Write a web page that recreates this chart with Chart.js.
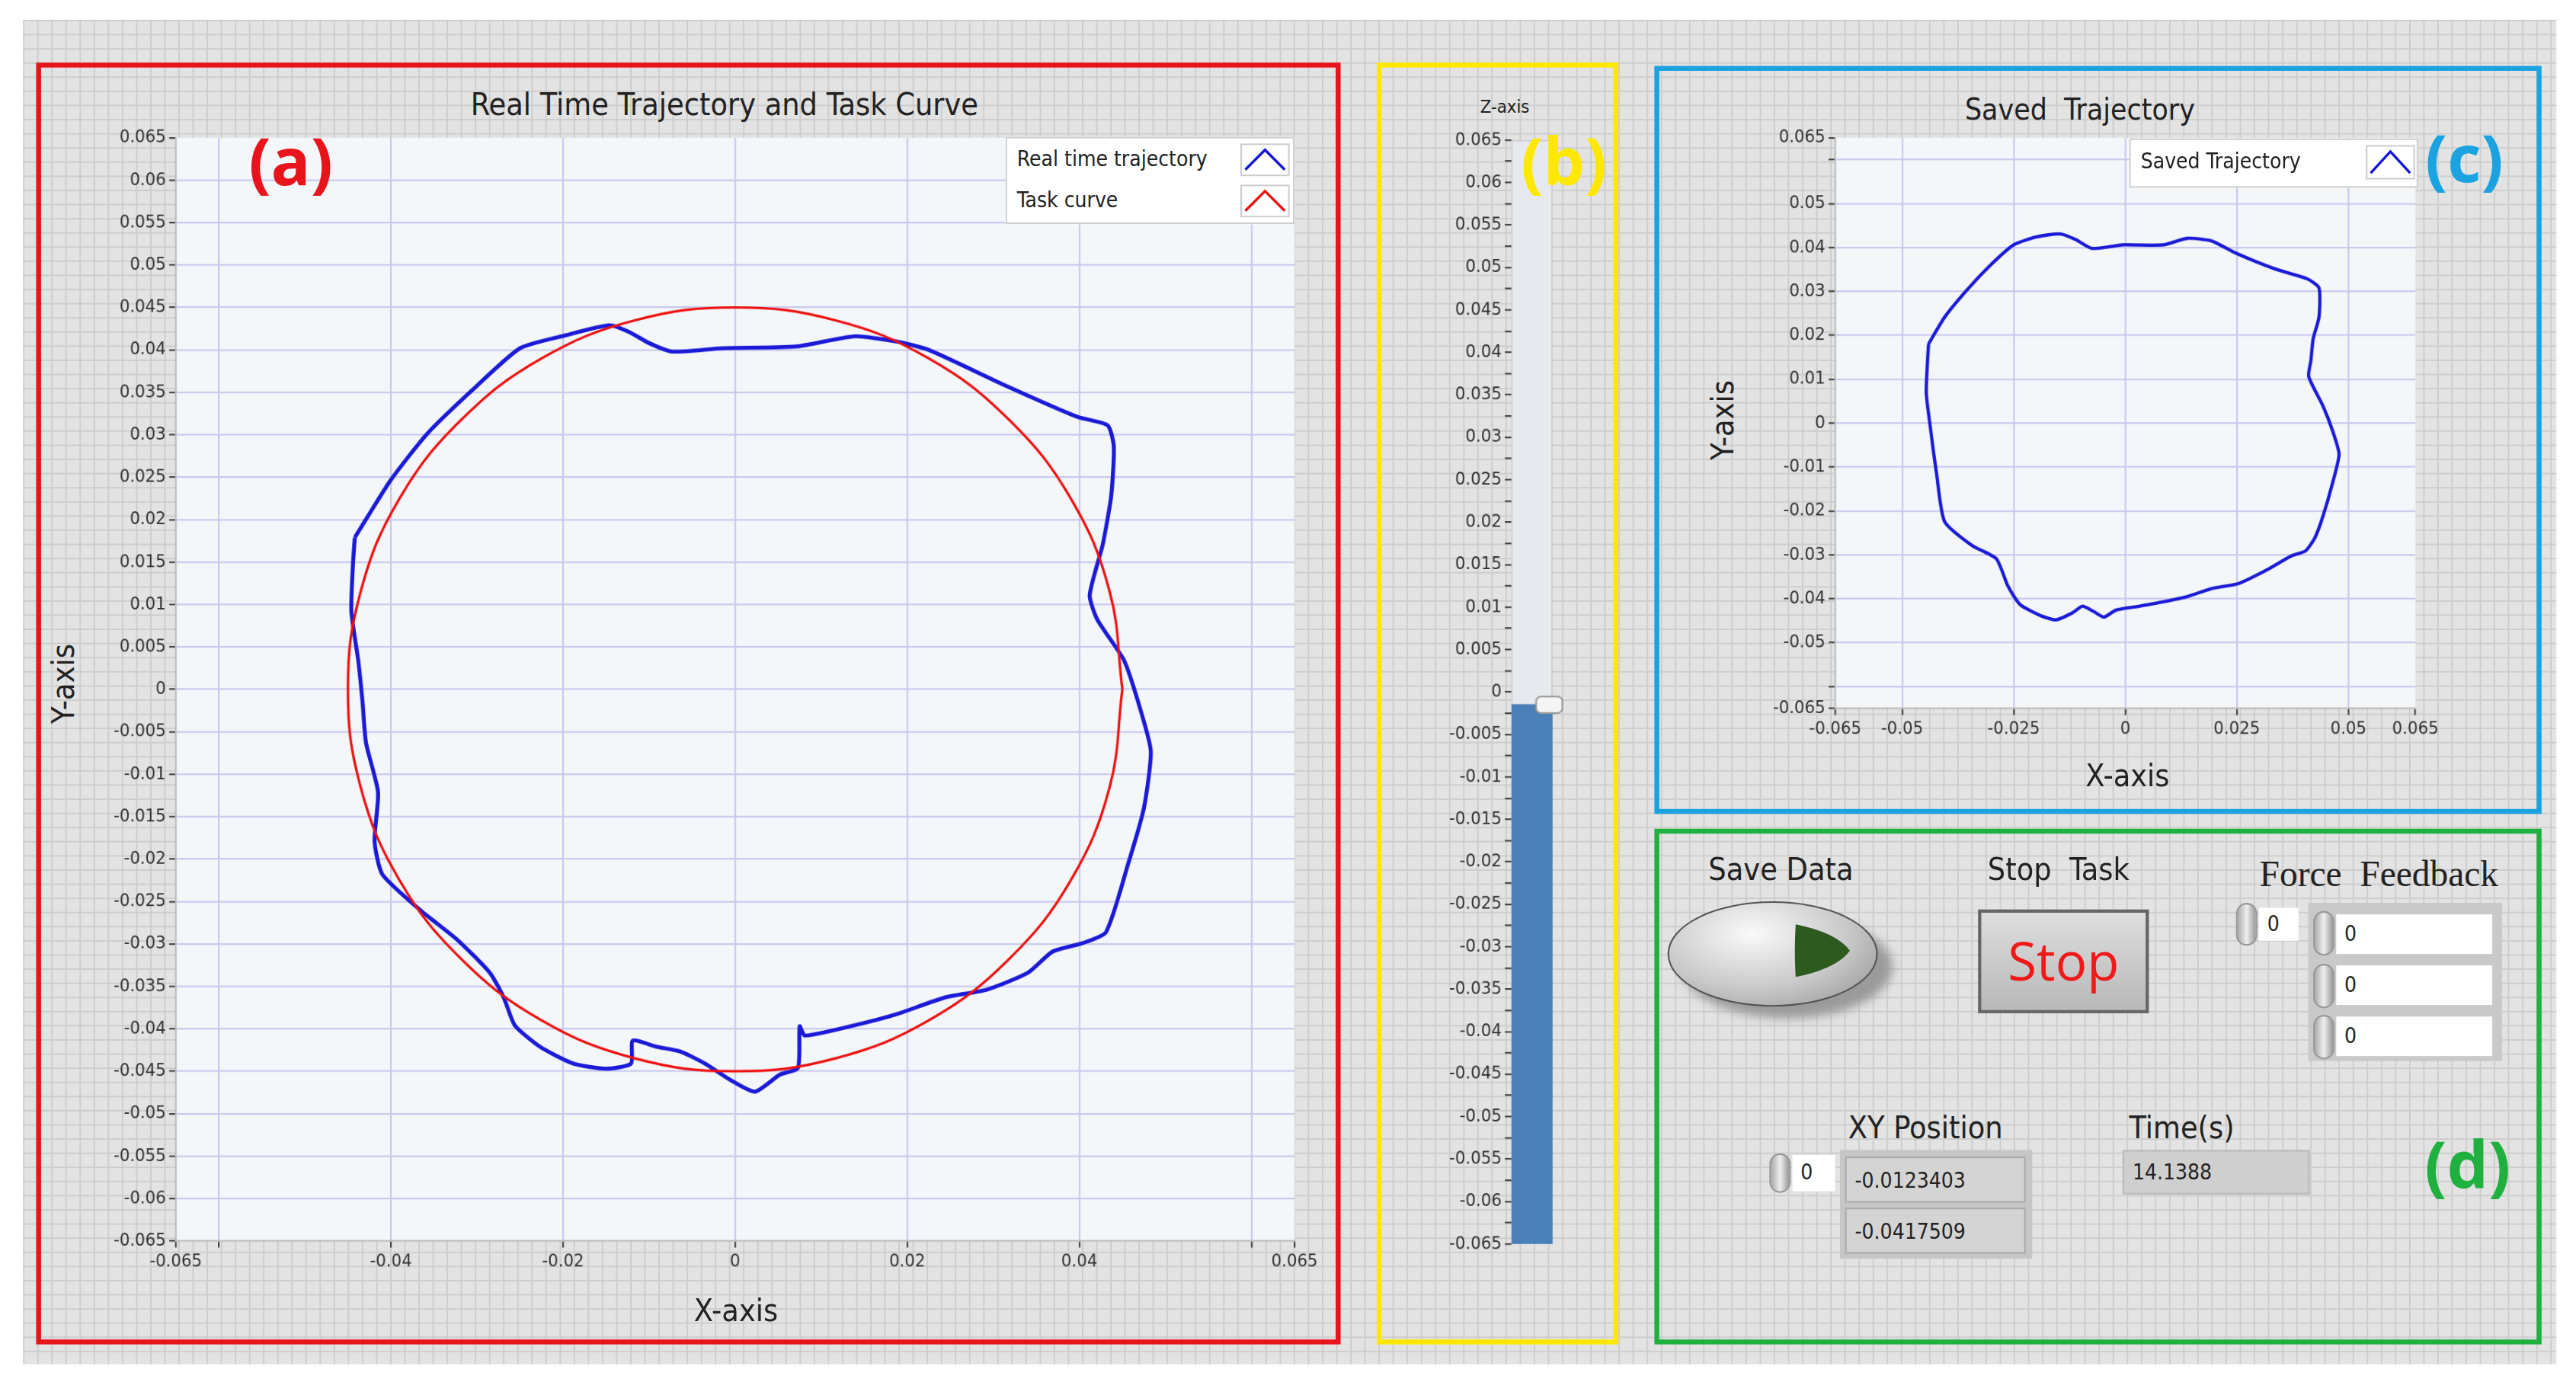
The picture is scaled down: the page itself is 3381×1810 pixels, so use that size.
<!DOCTYPE html>
<html>
<head>
<meta charset="utf-8">
<script src="https://cdn.jsdelivr.net/npm/chart.js@4.4.1/dist/chart.umd.min.js"></script>
<style>
  html, body { margin: 0; padding: 0; background: #fff; overflow: hidden; }
  #stage { position: absolute; left: 0; top: 0; width: 1568px; height: 837px;
    transform: scale(2.1563, 2.1625); transform-origin: 0 0;
    font-family: "DejaVu Sans Condensed", "Liberation Sans Narrow", sans-serif; color: #222; }
  .bg { position: absolute; left: 14px; top: 12px; width: 1542px; height: 816px; background-color: #e3e3e3;
    background-image: linear-gradient(#cdcdcd 1px, transparent 1px), linear-gradient(90deg, #cdcdcd 1px, transparent 1px);
    background-size: 8.6px 8.6px; }
  .box { position: absolute; box-sizing: border-box; border: 3px solid; }
  .abs { position: absolute; white-space: nowrap; }
  .c { transform: translate(-50%, -50%); }
  canvas { position: absolute; }
  .lab { font-size: 19px; }
  .tag { font-family: "Open Sans", sans-serif; font-weight: bold; font-size: 40px; }
  .legend { position: absolute; background: #fff; border: 1px solid #cfcfcf; font-size: 13px; }
  .legend .row { position: absolute; left: 6px; }
  .legend svg { position: absolute; }
  .field { position: absolute; box-sizing: border-box; font-size: 13px; padding: 4px 0 0 5px; }
  .spin { position: absolute; width: 13px; border-radius: 7px; background: linear-gradient(90deg,#aaa,#eee,#999); border: 1px solid #999; box-sizing: border-box; }
</style>
</head>
<body>
<div id="stage">
  <div class="bg"></div>

  <!-- (a) -->
  <div class="box" style="left:22px;top:38px;width:794px;height:778px;border-color:#e8141c"></div>
  <div class="abs c" style="left:441px;top:63px;font-size:19px">Real Time Trajectory and Task Curve</div>
  <canvas id="chartA" style="left:50px;top:75px;width:754px;height:715px"></canvas>
  <div class="abs c tag" style="left:177px;top:97px;color:#e8141c">(a)</div>
  <div class="abs c lab" style="left:38px;top:415px;transform:translate(-50%,-50%) rotate(-90deg)">Y-axis</div>
  <div class="abs c lab" style="left:448px;top:795px">X-axis</div>
  <div class="legend" style="left:612px;top:83px;width:174px;height:51px">
    <div class="row" style="top:5px">Real time trajectory</div>
    <svg style="left:142px;top:3px" width="30" height="20"><rect x="0.5" y="0.5" width="29" height="19" fill="#fff" stroke="#ccc"/><polyline points="3,16 15,4 27,16" fill="none" stroke="#1515d8" stroke-width="1.6"/></svg>
    <div class="row" style="top:30px">Task curve</div>
    <svg style="left:142px;top:28px" width="30" height="20"><rect x="0.5" y="0.5" width="29" height="19" fill="#fff" stroke="#ccc"/><polyline points="3,16 15,4 27,16" fill="none" stroke="#f01010" stroke-width="1.6"/></svg>
  </div>

  <!-- (b) -->
  <div class="box" style="left:838px;top:38px;width:147px;height:778px;border-color:#ffe800"></div>
  <div class="abs c" style="left:916px;top:65px;font-size:11px">Z-axis</div>
  <canvas id="chartB" style="left:856px;top:75px;width:100px;height:690px"></canvas>
  <div class="abs c tag" style="left:952px;top:97px;color:#ffe800">(b)</div>

  <!-- (c) -->
  <div class="box" style="left:1007px;top:40px;width:540px;height:454px;border-color:#1aa3e0"></div>
  <div class="abs c" style="left:1266px;top:66px;font-size:18px">Saved&nbsp; Trajectory</div>
  <canvas id="chartC" style="left:1060px;top:75px;width:426px;height:390px"></canvas>
  <div class="abs c tag" style="left:1500px;top:95px;color:#1aa3e0">(c)</div>
  <div class="abs c lab" style="left:1048px;top:255px;transform:translate(-50%,-50%) rotate(-90deg)">Y-axis</div>
  <div class="abs c lab" style="left:1295px;top:470px">X-axis</div>
  <div class="legend" style="left:1296px;top:84px;width:174px;height:28px">
    <div class="row" style="top:5px">Saved Trajectory</div>
    <svg style="left:143px;top:3px" width="30" height="21"><rect x="0.5" y="0.5" width="29" height="20" fill="#fff" stroke="#ccc"/><polyline points="3,17 15,4 27,17" fill="none" stroke="#1515d8" stroke-width="1.6"/></svg>
  </div>

  <!-- (d) -->
  <div class="box" style="left:1007px;top:503px;width:540px;height:313px;border-color:#20b040"></div>
  <div class="abs c lab" style="left:1084px;top:527px">Save Data</div>
  <div class="abs" style="left:1024px;top:556px;width:128px;height:62px;border-radius:50%;background:#9a9a9a;filter:blur(3px)"></div>
  <div class="abs" style="left:1015px;top:547px;width:128px;height:64px;border-radius:50%;border:1.5px solid #555;box-sizing:border-box;background:radial-gradient(ellipse at 40% 30%,#fafafa,#c8c8c8 55%,#8f8f8f)"></div>
  <svg class="abs" style="left:1090px;top:558px" width="40" height="38"><path d="M3,3 Q2,19 3,35 Q28,30 36,19 Q28,8 3,3 Z" fill="#2d5a1e"/></svg>
  <div class="abs c lab" style="left:1253px;top:527px">Stop&nbsp; Task</div>
  <div class="abs" style="left:1204px;top:552px;width:104px;height:63px;box-sizing:border-box;border:2px solid #666;background:linear-gradient(#dedede,#b8b8b8);color:#f01818;font-size:32px;text-align:center;line-height:58px;font-family:'Open Sans',sans-serif">Stop</div>
  <div class="abs c" style="left:1448px;top:531px;font-size:22px;font-family:'Liberation Serif',serif">Force&nbsp; Feedback</div>
  <div class="spin" style="left:1361px;top:548px;height:26px"></div>
  <div class="field" style="left:1375px;top:551px;width:24px;height:20px;background:#fff;padding-top:2px">0</div>
  <div class="abs" style="left:1405px;top:548px;width:118px;height:96px;background:#c9c9c9"></div>
  <div class="spin" style="left:1408px;top:553px;height:27px"></div>
  <div class="spin" style="left:1408px;top:585px;height:27px"></div>
  <div class="spin" style="left:1408px;top:616px;height:27px"></div>
  <div class="field" style="left:1422px;top:555px;width:95px;height:24px;background:#fff">0</div>
  <div class="field" style="left:1422px;top:586px;width:95px;height:24px;background:#fff">0</div>
  <div class="field" style="left:1422px;top:617px;width:95px;height:24px;background:#fff">0</div>

  <div class="abs c lab" style="left:1172px;top:684px">XY Position</div>
  <div class="spin" style="left:1077px;top:700px;height:24px"></div>
  <div class="field" style="left:1091px;top:701px;width:26px;height:22px;background:#fff;padding-top:3px">0</div>
  <div class="abs" style="left:1120px;top:698px;width:117px;height:66px;background:#c6c6c6"></div>
  <div class="field" style="left:1123px;top:702px;width:110px;height:28px;background:#d4d4d4;border:1px solid #aaa;padding-top:6px">-0.0123403</div>
  <div class="field" style="left:1123px;top:733px;width:110px;height:28px;background:#d4d4d4;border:1px solid #aaa;padding-top:6px">-0.0417509</div>
  <div class="abs c lab" style="left:1328px;top:684px">Time(s)</div>
  <div class="field" style="left:1292px;top:698px;width:114px;height:27px;background:#cfcfcf;border:1px solid #bbb;padding-top:5px">14.1388</div>
  <div class="abs c tag" style="left:1502px;top:706px;color:#20b040">(d)</div>
</div>

<script>
// ---- data ----
const taskX = [0.045, 0.0435, 0.039, 0.0318, 0.0225, 0.0116, 0, -0.0116, -0.0225, -0.0318, -0.039, -0.0435, -0.045, -0.0435, -0.039, -0.0318, -0.0225, -0.0116, 0, 0.0116, 0.0225, 0.0318, 0.039, 0.0435, 0.045];
const taskY = [0, 0.0116, 0.0225, 0.0318, 0.039, 0.0435, 0.045, 0.0435, 0.039, 0.0318, 0.0225, 0.0116, 0, -0.0116, -0.0225, -0.0318, -0.039, -0.0435, -0.045, -0.0435, -0.039, -0.0318, -0.0225, -0.0116, 0];

const realX = [-0.0442, -0.040, -0.0358, -0.0304, -0.025, -0.0198, -0.0146, -0.0123, -0.010, -0.0073, -0.0015, 0.0071, 0.0138, 0.0187, 0.0225, 0.0312, 0.0398, 0.0433, 0.044, 0.0437, 0.0427, 0.0412, 0.0421, 0.0452, 0.0471, 0.0483, 0.0475, 0.0456, 0.0431, 0.0404, 0.0369, 0.034, 0.0292, 0.0244, 0.0187, 0.0138, 0.0081, 0.0075, 0.0073, 0.0052, 0.0023, -0.0006, -0.0035, -0.0063, -0.0092, -0.0119, -0.0121, -0.015, -0.0188, -0.0227, -0.0256, -0.0269, -0.0285, -0.0323, -0.0365, -0.041, -0.0419, -0.0415, -0.0429, -0.0433, -0.0438, -0.0446, -0.0444, -0.0442];
const realY = [0.0179, 0.0247, 0.0301, 0.0354, 0.0402, 0.0417, 0.0429, 0.0421, 0.0408, 0.0398, 0.0402, 0.0404, 0.0416, 0.041, 0.040, 0.0359, 0.0321, 0.0311, 0.0286, 0.0228, 0.017, 0.0111, 0.0082, 0.0034, -0.0024, -0.0073, -0.014, -0.0208, -0.0286, -0.0299, -0.0309, -0.0334, -0.0354, -0.0363, -0.0383, -0.0396, -0.0408, -0.0397, -0.0446, -0.0454, -0.0474, -0.046, -0.0441, -0.0427, -0.0421, -0.0414, -0.0441, -0.0447, -0.0441, -0.0421, -0.0396, -0.0363, -0.0334, -0.0295, -0.0261, -0.0218, -0.0179, -0.0121, -0.0063, -0.0015, 0.0034, 0.0092, 0.015, 0.0179];

const savedX = [-0.0441, -0.0405, -0.0361, -0.0307, -0.025, -0.02, -0.0146, -0.0111, -0.0075, -0.0004, 0.0086, 0.0139, 0.0193, 0.0246, 0.0336, 0.0407, 0.0434, 0.0434, 0.0421, 0.0416, 0.0411, 0.0443, 0.0464, 0.0479, 0.0464, 0.0443, 0.0425, 0.0404, 0.0371, 0.0318, 0.0255, 0.0193, 0.0139, 0.0086, 0.0032, -0.0021, -0.0048, -0.0071, -0.0096, -0.0118, -0.0155, -0.0191, -0.0236, -0.0263, -0.0289, -0.0343, -0.0405, -0.0423, -0.0436, -0.0446, -0.0441];
const savedY = [0.018, 0.0241, 0.0296, 0.0355, 0.0406, 0.0424, 0.0431, 0.0418, 0.0398, 0.0406, 0.0406, 0.0421, 0.0415, 0.0388, 0.0351, 0.0329, 0.0308, 0.0241, 0.0192, 0.0143, 0.0106, 0.0039, -0.0016, -0.0071, -0.0138, -0.0212, -0.0261, -0.0291, -0.0303, -0.0334, -0.0365, -0.0377, -0.0395, -0.0407, -0.0417, -0.0426, -0.0442, -0.0429, -0.0417, -0.0432, -0.0448, -0.0438, -0.0413, -0.0371, -0.0309, -0.0279, -0.0224, -0.0114, -0.0016, 0.007, 0.018];

const zValue = -0.0015;

const aXTicks = [-0.065, -0.06, -0.04, -0.02, 0, 0.02, 0.04, 0.06, 0.065];
const aXLabels = ['-0.065', '', '-0.04', '-0.02', '0', '0.02', '0.04', '', '0.065'];
const zTicks = [0.065, 0.06, 0.055, 0.05, 0.045, 0.04, 0.035, 0.03, 0.025, 0.02, 0.015, 0.01, 0.005, 0, -0.005, -0.01, -0.015, -0.02, -0.025, -0.03, -0.035, -0.04, -0.045, -0.05, -0.055, -0.06, -0.065];
const cXTicks = [-0.065, -0.05, -0.025, 0, 0.025, 0.05, 0.065];
const cYTicks = [0.065, 0.06, 0.05, 0.04, 0.03, 0.02, 0.01, 0, -0.01, -0.02, -0.03, -0.04, -0.05, -0.06, -0.065];

// ---- helpers ----
const pts = (xs, ys) => xs.map((x, i) => ({ x, y: ys[i] }));
const fmt = v => String(+v.toFixed(4));
const tickFont = { family: '"DejaVu Sans Condensed", sans-serif', size: 11 };

const plotBg = {
  id: 'plotBg',
  beforeDraw(chart) {
    const a = chart.chartArea, c = chart.ctx;
    c.save(); c.fillStyle = '#f4f7f9'; c.fillRect(a.left, a.top, a.right - a.left, a.bottom - a.top); c.restore();
  }
};

function fixTicks(list) {
  return scale => { scale.ticks = list.map(v => ({ value: v })); };
}

function axis(min, max, list, labelFn, extra) {
  return Object.assign({
    type: 'linear', min, max,
    afterBuildTicks: fixTicks(list),
    ticks: { color: '#333', font: tickFont, padding: 2, autoSkip: false, maxRotation: 0, callback: labelFn },
    grid: { color: ctx => (Math.abs(ctx.tick.value) > 0.0649 ? 'rgba(0,0,0,0)' : '#c8c8f0'), tickColor: '#444', tickLength: 4, drawTicks: true },
    border: { color: '#bbb' }
  }, extra || {});
}

Chart.defaults.animation = false;

// ---- (a) ----
new Chart(document.getElementById('chartA'), {
  type: 'scatter',
  data: {
    datasets: [
      { data: pts(taskX, taskY), showLine: true, borderColor: '#f01010', borderWidth: 1.5, pointRadius: 0, tension: 0.4 },
      { data: pts(realX, realY), showLine: true, borderColor: '#1a1ad8', borderWidth: 2.4, pointRadius: 0, tension: 0.2 }
    ]
  },
  options: {
    responsive: false, devicePixelRatio: 2.3,
    layout: { padding: { top: 7, right: 8 } },
    plugins: { legend: { display: false }, tooltip: { enabled: false } },
    scales: {
      x: axis(-0.065, 0.065, aXTicks, (v, i) => aXLabels[i], { afterFit: s => { s.height = 37; } }),
      y: axis(-0.065, 0.065, zTicks, v => fmt(v), { afterFit: s => { s.width = 57; } })
    }
  },
  plugins: [plotBg]
});

// ---- (b) ----
const thumb = {
  id: 'thumb',
  afterDatasetsDraw(chart) {
    const a = chart.chartArea, c = chart.ctx, y = chart.scales.y.getPixelForValue(zValue);
    c.save(); c.fillStyle = '#f4f4f4'; c.strokeStyle = '#999';
    c.beginPath(); c.roundRect(a.right - 10, y - 5, 16, 10, 3); c.fill(); c.stroke(); c.restore();
  }
};
new Chart(document.getElementById('chartB'), {
  type: 'bar',
  data: {
    labels: ['Z'],
    datasets: [
      { data: [[zValue, -0.065]], backgroundColor: '#4a7fb8', barPercentage: 1, categoryPercentage: 1, grouped: false, order: 1 },
      { data: [[-0.065, 0.065]], backgroundColor: '#e6eaee', borderColor: '#c8c8c8', borderWidth: 1, borderSkipped: false, barPercentage: 1, categoryPercentage: 1, grouped: false, order: 2 }
    ]
  },
  options: {
    responsive: false, devicePixelRatio: 2.3,
    layout: { padding: { top: 10, bottom: 10, right: 11 } },
    plugins: { legend: { display: false }, tooltip: { enabled: false } },
    scales: {
      x: { display: false },
      y: {
        min: -0.065, max: 0.065,
        afterBuildTicks: scale => {
          const t = [];
          zTicks.forEach((v, i) => { t.push({ value: v }); if (i < zTicks.length - 1) t.push({ value: v - 0.0025, minor: true }); });
          scale.ticks = t;
        },
        ticks: { color: '#333', font: tickFont, padding: 2, autoSkip: false, callback: (v, i) => (i % 2 ? '' : fmt(v)) },
        grid: { display: true, drawOnChartArea: false, tickColor: '#444', tickLength: 4 },
        border: { display: false },
        afterFit: s => { s.width = 64; }
      }
    }
  },
  plugins: [thumb]
});

// ---- (c) ----
new Chart(document.getElementById('chartC'), {
  type: 'scatter',
  data: {
    datasets: [
      { data: pts(savedX, savedY), showLine: true, borderColor: '#1a1ad8', borderWidth: 2, pointRadius: 0, tension: 0.2 }
    ]
  },
  options: {
    responsive: false, devicePixelRatio: 2.3,
    layout: { padding: { top: 7, right: 10 } },
    plugins: { legend: { display: false }, tooltip: { enabled: false } },
    scales: {
      x: axis(-0.065, 0.065, cXTicks, v => fmt(v), { afterFit: s => { s.height = 35; } }),
      y: axis(-0.065, 0.065, cYTicks, v => (Math.abs(Math.abs(v) - 0.06) < 1e-6 ? '' : fmt(v)), { afterFit: s => { s.width = 57; } })
    }
  },
  plugins: [plotBg]
});
</script>
</body>
</html>
